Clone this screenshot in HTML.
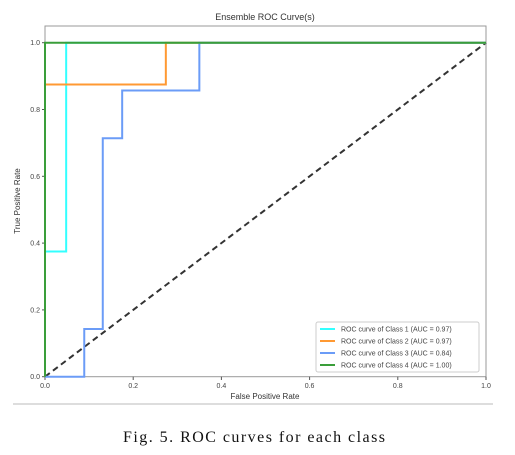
<!DOCTYPE html>
<html><head><meta charset="utf-8"><style>
html,body{margin:0;padding:0;background:#fff;width:515px;height:455px;overflow:hidden}
svg{display:block}
</style></head><body>
<svg id="chart" width="515" height="455" xmlns="http://www.w3.org/2000/svg" font-family="'Liberation Sans', sans-serif">
<text x="265" y="20" font-size="9" text-anchor="middle" fill="#333">Ensemble ROC Curve(s)</text>
<rect x="45" y="26" width="441" height="350.7" fill="none" stroke="#999" stroke-width="1"/>
<g id="xticks"></g>
<g id="yticks"></g>
<g id="series"></g>
<text x="265" y="399" font-size="8" text-anchor="middle" fill="#333">False Positive Rate</text>
<text transform="translate(20,201) rotate(-90)" font-size="8" text-anchor="middle" fill="#333">True Positive Rate</text>
<g id="legend">
<rect x="316" y="322" width="163" height="50" fill="#fff" stroke="#ccc" rx="2"/>
</g>
<line x1="13" y1="404" x2="493" y2="404" stroke="#bbb" stroke-width="1"/>
<text x="123" y="442" font-size="16" textLength="262" lengthAdjust="spacing" fill="#111" font-family="'Liberation Serif', serif">Fig. 5.  ROC curves for each class</text>
</svg>
<script>
const xTicks=[0,0.2,0.4,0.6,0.8,1.0];
const yTicks=[0,0.2,0.4,0.6,0.8,1.0];
const seriesNames=["ROC curve of Class 1 (AUC = 0.97)","ROC curve of Class 2 (AUC = 0.97)","ROC curve of Class 3 (AUC = 0.84)","ROC curve of Class 4 (AUC = 1.00)"];
const fpr1=[0,0,0.048,0.048,1];const tpr1=[0,0.375,0.375,1,1];
const fpr2=[0,0,0.274,0.274,1];const tpr2=[0,0.875,0.875,1,1];
const fpr3=[0,0.089,0.089,0.131,0.131,0.175,0.175,0.35,0.35,1];const tpr3=[0,0,0.143,0.143,0.714,0.714,0.857,0.857,1,1];
const fpr4=[0,0,1];const tpr4=[0,1,1];
const colors=["#33ffff","#ff9933","#6b9cf7","#3a9e3a"];
const NS="http://www.w3.org/2000/svg";
const sx=v=>45+v*441;
const sy=v=>376.7-v*(376.7-42.7);
function mk(t,a,p){const e=document.createElementNS(NS,t);for(const k in a)e.setAttribute(k,a[k]);p.appendChild(e);return e;}
const xg=document.getElementById('xticks'),yg=document.getElementById('yticks');
xTicks.forEach(v=>{
 const l=mk('line',{x1:sx(v),x2:sx(v),y1:376.7,y2:380,stroke:'#555'},xg);
 
 
 const t=mk('text',{x:sx(v),y:388,'font-size':7,'text-anchor':'middle',fill:'#444'},xg);t.textContent=v.toFixed(1);
 
 
});
yTicks.forEach(v=>{
 const l=mk('line',{x1:42,x2:45,y1:sy(v),y2:sy(v),stroke:'#555'},yg);
 
 
 const t=mk('text',{x:40,y:sy(v)+2.5,'font-size':7,'text-anchor':'end',fill:'#444'},yg);t.textContent=v.toFixed(1);
 
 
});
const sg=document.getElementById('series');
const d=mk('line',{x1:sx(0),y1:sy(0),x2:sx(1),y2:sy(1),stroke:'#333','stroke-width':2,'stroke-dasharray':'6,4'},sg);


[[fpr1,tpr1],[fpr2,tpr2],[fpr3,tpr3],[fpr4,tpr4]].forEach((s,i)=>{
 const pts=s[0].map((x,j)=>sx(x)+','+sy(s[1][j])).join(' ');
 const p=mk('polyline',{points:pts,fill:'none',stroke:colors[i],'stroke-width':2},sg);
 
 
});
const lg=document.getElementById('legend');
seriesNames.forEach((n,i)=>{
 const y=329+i*12;
 const l=mk('line',{x1:320,x2:335,y1:y,y2:y,stroke:colors[i],'stroke-width':2},lg);
 
 
 const t=mk('text',{x:341,y:y+2.5,'font-size':7,fill:'#444'},lg);t.textContent=n;
 
 
});
</script>
</body></html>
